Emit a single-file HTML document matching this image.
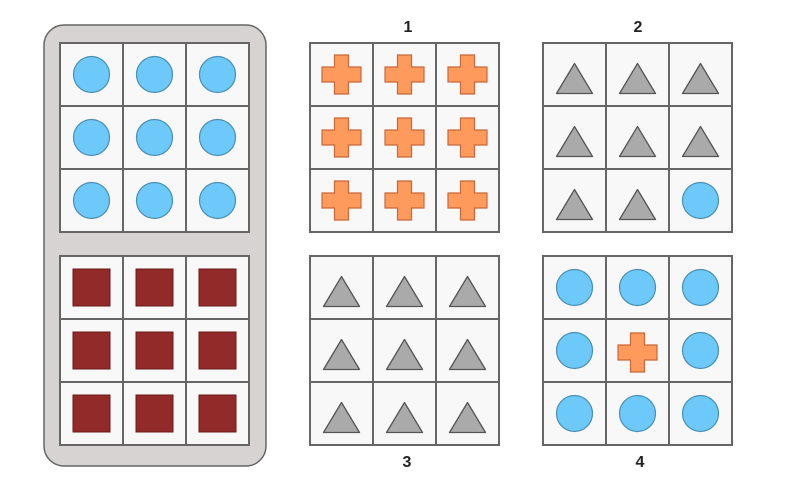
<!DOCTYPE html>
<html><head><meta charset="utf-8"><style>
html,body{margin:0;padding:0;background:#fff;}
svg{display:block;}
text{font-family:"Liberation Sans",sans-serif;font-weight:bold;font-size:16px;fill:#222;}
</style></head><body>
<svg width="793" height="501" viewBox="0 0 793 501" xmlns="http://www.w3.org/2000/svg">
<defs>
<g id="c"><circle cx="0" cy="0" r="18" fill="#6ec9fb" stroke="#4a8fb3" stroke-width="1.2"/></g>
<g id="x"><path d="M-7,-19.5 H7 V-7.5 H19.5 V7.5 H7 V19.5 H-7 V7.5 H-19.5 V-7.5 H-7 Z" fill="#fd9a5c" stroke="#c9683a" stroke-width="1.2"/></g>
<g id="t"><path d="M0,-13 L18,17 L-18,17 Z" fill="#aaaaaa" stroke="#555" stroke-width="1.3" stroke-linejoin="round"/></g>
<g id="s"><rect x="-18.5" y="-18.5" width="37" height="37" fill="#932a2a" stroke="#6a1a1a" stroke-width="1"/></g>
<g id="grid">
<rect x="0" y="0" width="189" height="189" fill="#f8f8f8" stroke="#666" stroke-width="2"/>
<line x1="63" y1="0" x2="63" y2="189" stroke="#666" stroke-width="2"/>
<line x1="126" y1="0" x2="126" y2="189" stroke="#666" stroke-width="2"/>
<line x1="0" y1="63" x2="189" y2="63" stroke="#666" stroke-width="2"/>
<line x1="0" y1="126" x2="189" y2="126" stroke="#666" stroke-width="2"/>
</g>
</defs>

<rect x="44" y="25" width="222" height="441" rx="20" ry="20" fill="#d8d3d3" stroke="#666" stroke-width="1.5"/>
<use href="#grid" x="60" y="43"/>
<use href="#grid" x="60" y="256"/>
<use href="#grid" x="310" y="43"/>
<use href="#grid" x="543" y="43"/>
<use href="#grid" x="310" y="256"/>
<use href="#grid" x="543" y="256"/>

<!-- left top circles -->
<use href="#c" x="91.5" y="74.5"/><use href="#c" x="154.5" y="74.5"/><use href="#c" x="217.5" y="74.5"/>
<use href="#c" x="91.5" y="137.5"/><use href="#c" x="154.5" y="137.5"/><use href="#c" x="217.5" y="137.5"/>
<use href="#c" x="91.5" y="200.5"/><use href="#c" x="154.5" y="200.5"/><use href="#c" x="217.5" y="200.5"/>
<!-- left bottom squares -->
<use href="#s" x="91.5" y="287.5"/><use href="#s" x="154.5" y="287.5"/><use href="#s" x="217.5" y="287.5"/>
<use href="#s" x="91.5" y="350.5"/><use href="#s" x="154.5" y="350.5"/><use href="#s" x="217.5" y="350.5"/>
<use href="#s" x="91.5" y="413.5"/><use href="#s" x="154.5" y="413.5"/><use href="#s" x="217.5" y="413.5"/>
<!-- grid 1 crosses -->
<use href="#x" x="341.5" y="74.5"/><use href="#x" x="404.5" y="74.5"/><use href="#x" x="467.5" y="74.5"/>
<use href="#x" x="341.5" y="137.5"/><use href="#x" x="404.5" y="137.5"/><use href="#x" x="467.5" y="137.5"/>
<use href="#x" x="341.5" y="200.5"/><use href="#x" x="404.5" y="200.5"/><use href="#x" x="467.5" y="200.5"/>
<!-- grid 2 -->
<use href="#t" x="574.5" y="76.5"/><use href="#t" x="637.5" y="76.5"/><use href="#t" x="700.5" y="76.5"/>
<use href="#t" x="574.5" y="139.5"/><use href="#t" x="637.5" y="139.5"/><use href="#t" x="700.5" y="139.5"/>
<use href="#t" x="574.5" y="202.5"/><use href="#t" x="637.5" y="202.5"/><use href="#c" x="700.5" y="200.5"/>
<!-- grid 3 -->
<use href="#t" x="341.5" y="289.5"/><use href="#t" x="404.5" y="289.5"/><use href="#t" x="467.5" y="289.5"/>
<use href="#t" x="341.5" y="352.5"/><use href="#t" x="404.5" y="352.5"/><use href="#t" x="467.5" y="352.5"/>
<use href="#t" x="341.5" y="415.5"/><use href="#t" x="404.5" y="415.5"/><use href="#t" x="467.5" y="415.5"/>
<!-- grid 4 -->
<use href="#c" x="574.5" y="287.5"/><use href="#c" x="637.5" y="287.5"/><use href="#c" x="700.5" y="287.5"/>
<use href="#c" x="574.5" y="350.5"/><use href="#x" x="637.5" y="352.5"/><use href="#c" x="700.5" y="350.5"/>
<use href="#c" x="574.5" y="413.5"/><use href="#c" x="637.5" y="413.5"/><use href="#c" x="700.5" y="413.5"/>

<text x="408" y="32" text-anchor="middle">1</text>
<text x="638" y="32" text-anchor="middle">2</text>
<text x="407" y="467" text-anchor="middle">3</text>
<text x="640" y="467" text-anchor="middle">4</text>
</svg>
</body></html>
